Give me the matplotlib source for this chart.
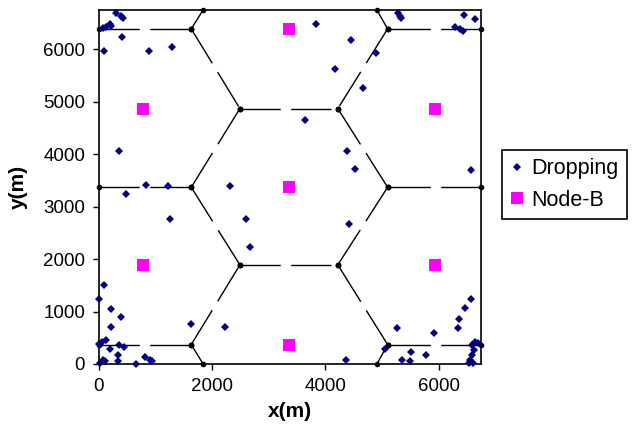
import matplotlib
matplotlib.use("Agg")
import matplotlib.pyplot as plt

plt.rcParams['font.family'] = ['Liberation Sans', 'DejaVu Sans']
plt.rcParams['lines.scale_dashes'] = False

# Dropping points (m)
drop_x = [90, 0, 220, 380, 220, 120, 50, 0, 350, 440, 200, 340, 340, 70, 110, 25,
          660, 810, 900, 930, 1630, 2220,
          4360, 5050, 5270, 5360, 5510, 5490, 5770, 5926, 6336, 6366, 6460, 6582,
          6645, 6700, 6590, 6620, 6590, 6560, 6530, 6615,
          306, 380, 420, 188, 130, 218, 70, 405, 95, 880, 1292,
          5275, 5322, 5340, 6454, 6642, 6290, 6378, 6436, 4453, 4890, 4166, 3826, 4670,
          3638, 4390, 4515, 6582, 4420, 352, 470, 822, 1227, 1250, 2318, 2605, 2676]
drop_y = [1510, 1240, 1040, 900, 700, 460, 410, 390, 360, 320, 290, 170, 60, 75, 50, 10,
          0, 135, 70, 50, 770, 700,
          85, 285, 695, 80, 220, 60, 180, 595, 694, 860, 1064, 1240,
          426, 400, 363, 268, 172, 80, 13, 25,
          6702, 6640, 6606, 6478, 6427, 6446, 6402, 6243, 5975, 5968, 6045,
          6702, 6640, 6606, 6650, 6574, 6427, 6383, 6350, 6176, 5938, 5632, 6478, 5255,
          4644, 4070, 3725, 3690, 2670, 4065, 3243, 3421, 3388, 2771, 3388, 2771, 2230]

# Node-B positions (m)
node_x = [3350, 770, 5930, 3350, 770, 5930, 3350]
node_y = [6390, 4870, 4870, 3370, 1890, 1890, 370]

# cell borders: one segment per edge (x0, y0) -> (x1, y1)
edge_x0 = [0, 6750, 0, 6750, 0, 6750, 2490, 2490,
           1630, 1630, 1630, 1630, 1630, 1630, 5100, 5100, 5100, 5100, 5100, 5100]
edge_y0 = [6390, 6390, 3370, 3370, 370, 370, 4870, 1890,
           6390, 6390, 3370, 3370, 370, 370, 6390, 6390, 3370, 3370, 370, 370]
edge_x1 = [1630, 5100, 1630, 5100, 1630, 5100, 4220, 4220,
           1840, 2490, 2490, 2490, 2490, 1840, 4910, 4220, 4220, 4220, 4220, 4910]
edge_y1 = [6390, 6390, 3370, 3370, 370, 370, 4870, 1890,
           6750, 4870, 4870, 1890, 1890, 0, 6750, 4870, 4870, 1890, 1890, 0]

fig = plt.figure(figsize=(6.34, 4.41), dpi=100)
ax = fig.add_axes([99 / 634, 1 - 364 / 441, 382 / 634, 354 / 441])

for x0, y0, x1, y1 in zip(edge_x0, edge_y0, edge_x1, edge_y1):
    ax.plot([x0, x1], [y0, y1], color='black', linewidth=1.0, dashes=(29, 7.5),
            marker='o', markersize=3, clip_on=False, zorder=2)

ax.plot(drop_x, drop_y, linestyle='none', marker='D', markersize=4.3,
        color='#000080', markeredgewidth=0, label='Dropping', clip_on=False, zorder=3)
ax.plot(node_x, node_y, linestyle='none', marker='s', markersize=8,
        color='#FF00FF', markeredgewidth=0, label='Node-B', zorder=3)

ax.set_xlim(0, 6750)
ax.set_ylim(0, 6750)
ax.set_xticks([0, 2000, 4000, 6000])
ax.set_yticks([0, 1000, 2000, 3000, 4000, 5000, 6000])
ax.tick_params(labelsize=13.5, length=4, width=1, direction='out', pad=6)
for s in ax.spines.values():
    s.set_linewidth(1.2)
ax.set_xlabel('x(m)', fontsize=15, fontweight='bold', labelpad=5)
ax.set_ylabel('y(m)', fontsize=15, fontweight='bold', labelpad=11)

leg = fig.legend(loc='upper left', bbox_to_anchor=(502 / 634, 1 - 150 / 441),
                 fontsize=15.5, frameon=True, fancybox=False, edgecolor='black',
                 framealpha=1, handlelength=0.6, handletextpad=0.4,
                 borderpad=0.38, labelspacing=0.5, borderaxespad=0)
leg.get_frame().set_linewidth(1.2)

fig.savefig('out.png', dpi=100)
